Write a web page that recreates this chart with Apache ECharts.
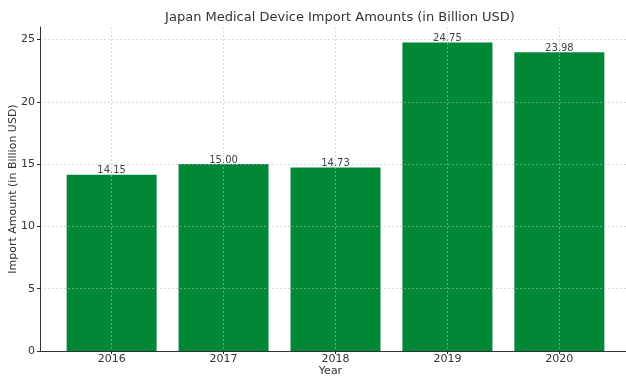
<!DOCTYPE html>
<html><head><meta charset="utf-8">
<script src="https://cdn.jsdelivr.net/npm/echarts@6/dist/echarts.min.js"></script>
<style>html,body{margin:0;padding:0;background:#fff}#c{width:626px;height:378px}</style>
</head><body><div id="c"></div>
<script>
const years = ['2016','2017','2018','2019','2020'];
const amounts = [14.15, 15.00, 14.73, 24.75, 23.98];
const yTicks = [0, 5, 10, 15, 20, 25];

const chart = echarts.init(document.getElementById('c'), null, {renderer:'canvas'});
const font = 'DejaVu Sans';
const gridColor = 'rgba(190,190,190,0.55)';
chart.setOption({
  animation:false,
  title:{text:'Japan Medical Device Import Amounts (in Billion USD)', left:335, top:6, textAlign:'center',
    textStyle:{fontFamily:font, fontSize:13, fontWeight:'normal', color:'#333'}},
  grid:{left:40, right:-5, top:27, bottom:27, containLabel:false, outerBoundsMode:'none'},
  xAxis:{type:'value', min:-0.64, max:4.64, splitNumber:5, z:5,
    name:'Year', nameLocation:'middle', nameGap:15, nameMoveOverlap:false,
    nameTextStyle:{fontFamily:font, fontSize:11, color:'#333', padding:[0,0,0,-10]},
    axisLine:{show:true, onZero:false, lineStyle:{color:'#333', width:1}},
    axisTick:{show:true, length:3, lineStyle:{color:'#333'}, customValues:[0,1,2,3,4]},
    axisLabel:{fontFamily:font, fontSize:11, color:'#333', margin:3, customValues:[0,1,2,3,4],
      formatter:v=> (Math.abs(v-Math.round(v))<1e-6 && v>=0 && v<years.length) ? years[Math.round(v)] : ''},
    splitLine:{show:true, lineStyle:{color:gridColor, type:[2,2], width:1}}
  },
  yAxis:{type:'value', min:0, max:26, interval:5, z:5,
    name:'Import Amount (in Billion USD)', nameLocation:'middle', nameGap:21, nameMoveOverlap:false,
    nameTextStyle:{fontFamily:font, fontSize:11, color:'#333'},
    axisLine:{show:true, onZero:false, lineStyle:{color:'#333', width:1}},
    axisTick:{show:true, length:3, lineStyle:{color:'#333'}},
    axisLabel:{fontFamily:font, fontSize:11, color:'#333', margin:5, showMaxLabel:false,
      formatter:v=> yTicks.includes(v) ? String(v) : ''},
    splitLine:{show:true, lineStyle:{color:gridColor, type:[2,2], width:1},
      showMaxLine:false}
  },
  series:[{type:'bar', barWidth:90, z:2,
    data: amounts.map((v,i)=>[i, v]),
    itemStyle:{color:'#018837'},
    label:{show:true, position:'top', distance:-1, fontFamily:font, fontSize:10, color:'#444',
      formatter:p=>p.value[1].toFixed(2)}
  }]
});
</script></body></html>
